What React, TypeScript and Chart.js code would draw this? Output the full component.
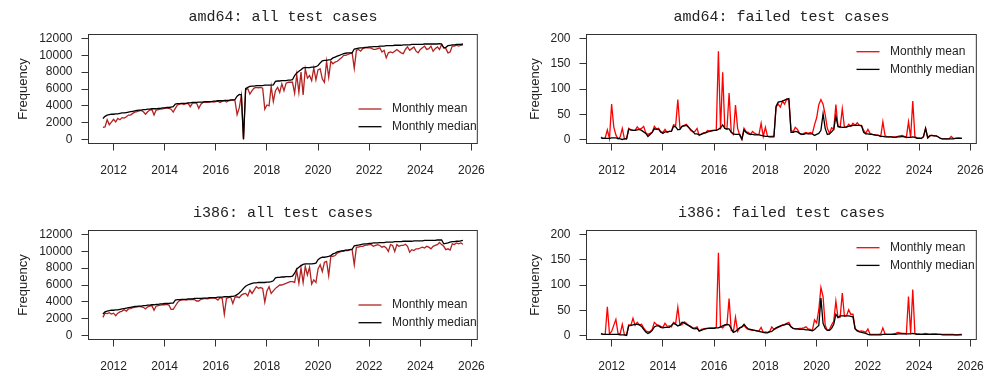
import React, { useEffect, useRef } from "react";
import { Chart, registerables } from "chart.js";

Chart.register(...registerables);

// Monthly series: first point August 2011, last point September 2025
const START_YEAR = 2011;
const START_MONTH = 8;

const YEAR_TICKS = [2012, 2014, 2016, 2018, 2020, 2022, 2024, 2026];
const ALL_TICKS = [0, 2000, 4000, 6000, 8000, 10000, 12000];
const FAILED_TICKS = [0, 50, 100, 150, 200];
const SERIES_LABELS = ["Monthly mean", "Monthly median"];

// amd64: all test cases
const amd64AllMean = [
  1450, 1500, 2350, 1750, 2050,
  2400, 2100, 2500, 2350, 2600, 2550, 2700, 2900, 2900, 3100, 3250, 3300,
  3400, 3450, 3300, 3000, 3300, 3500, 3550, 2900, 3500, 3550, 3600, 3650,
  3700, 3750, 3700, 3600, 3250, 3700, 4100, 4200, 4250, 4150, 4250, 4300,
  3900, 4300, 4350, 4300, 3700, 4200, 4400, 4450, 4400, 4450, 4500, 4450,
  4500, 4550, 4400, 4550, 4600, 4450, 4600, 4650, 4700, 4600, 2950, 3750,
  5200, 50, 5900, 6050, 5400, 5800, 6100, 6200, 6150, 6200, 6100, 3600,
  4100, 4000, 6300, 4500, 5800, 6200, 5600, 6600, 5800, 6700, 6800, 6800,
  6800, 5500, 7700, 5600, 8000, 5300, 8400, 7300, 7600, 7000, 8500, 7100,
  8300, 8400, 7200, 6800, 9300, 7400, 9300, 9000, 9200, 9300, 9500, 9700,
  10000, 10000, 10100, 10200, 10300, 8450, 10600, 10700, 10500, 10800, 10900, 10900,
  10900, 10850, 10700, 10700, 10800, 10900, 10400, 10600, 9700, 10300, 10400, 10300,
  10500, 10700, 10500, 10300, 10200, 10700, 11000, 10600, 10800, 11000, 10500, 10300,
  10700, 10900, 11100, 10700, 10800, 11100, 10500, 10800, 11000, 10700, 11300, 10900,
  10800, 10300, 10400, 11100, 11100, 11200, 11100, 11200, 11250,
];
const amd64AllMedian = [
  2500, 2750, 2900, 2950, 3000,
  3000, 3050, 3050, 3100, 3150, 3150, 3200, 3250, 3300, 3350, 3400, 3450,
  3500, 3500, 3550, 3550, 3600, 3600, 3650, 3650, 3650, 3700, 3700, 3750,
  3750, 3800, 3800, 3850, 3900, 4200, 4250, 4250, 4300, 4300, 4300, 4350,
  4350, 4400, 4400, 4400, 4450, 4450, 4450, 4500, 4500, 4500, 4500, 4550,
  4550, 4600, 4600, 4600, 4650, 4650, 4650, 4700, 4700, 4750, 5150, 5350,
  5300, 0, 6050, 6200, 6300, 6350, 6350, 6400, 6400, 6400, 6400, 6450,
  6450, 6450, 6450, 6500, 6900, 6950, 6950, 7000, 7000, 7000, 7050, 7050,
  7100, 7600, 7900, 8100, 8300, 8500, 8550, 8550, 8550, 8600, 8600, 8650,
  8800, 9100, 9350, 9400, 9400, 9450, 9500, 9700, 9800, 9900, 10000, 10100,
  10200, 10250, 10300, 10300, 10300, 10750, 10800, 10850, 10900, 10900, 10950, 10950,
  11000, 11000, 11050, 11050, 11050, 11100, 11100, 11100, 11150, 11150, 11150, 11150,
  11200, 11200, 11200, 11200, 11250, 11250, 11250, 11250, 11300, 11300, 11300, 11300,
  11300, 11300, 11350, 11350, 11350, 11350, 11350, 11350, 11350, 11400, 11350, 10900,
  10950, 11150, 11200, 11250, 11250, 11300, 11300, 11300, 11350,
];

// amd64: failed test cases
const amd64FailedMean = [
  5, 2, 3, 19, 2,
  70, 25, 9, 1, 5, 22, 1, 1, 22, 19, 18, 18,
  25, 20, 22, 26, 13, 10, 12, 14, 26, 21, 22, 15,
  14, 20, 14, 16, 16, 29, 28, 79, 22, 26, 28, 30,
  25, 18, 15, 16, 22, 8, 11, 13, 14, 18, 17, 18,
  18, 18, 175, 20, 133, 22, 20, 92, 15, 10, 68, 22,
  8, 1, 22, 15, 14, 10, 16, 12, 10, 10, 32, 6,
  24, 6, 6, 6, 7, 64, 70, 64, 76, 70, 80, 78,
  18, 15, 24, 20, 12, 10, 12, 14, 12, 14, 12, 29,
  43, 69, 79, 70, 49, 22, 12, 23, 20, 69, 25, 24,
  61, 24, 24, 30, 26, 32, 28, 33, 28, 28, 18, 12,
  20, 12, 10, 9, 9, 8, 6, 35, 8, 5, 5, 5,
  5, 5, 6, 7, 8, 6, 4, 35, 4, 76, 6, 3,
  3, 2, 6, 22, 4, 8, 8, 7, 7, 5, 2, 1,
  1, 1, 1, 6, 2, 2, 3, 3, 2,
];
const amd64FailedMedian = [
  3, 2, 2, 2, 2,
  3, 3, 3, 2, 1, 0, 1, 1, 20, 19, 18, 18,
  19, 20, 18, 15, 12, 6, 10, 14, 21, 20, 20, 15,
  12, 15, 15, 16, 16, 26, 25, 19, 20, 26, 27, 28,
  24, 20, 16, 11, 11, 9, 10, 12, 13, 15, 16, 17,
  18, 18, 20, 23, 29, 22, 21, 21, 14, 11, 10, 10,
  10, 0, 19, 14, 11, 10, 10, 9, 9, 9, 8, 7,
  6, 6, 5, 5, 5, 66, 74, 75, 76, 78, 80, 81,
  14, 14, 16, 15, 12, 10, 10, 12, 11, 11, 11, 8,
  10, 12, 18, 51, 22, 10, 11, 15, 20, 46, 26, 25,
  24, 24, 25, 26, 27, 28, 28, 28, 28, 27, 14, 11,
  11, 10, 10, 9, 8, 8, 6, 6, 5, 5, 5, 5,
  4, 4, 5, 5, 6, 5, 4, 4, 4, 5, 4, 2,
  2, 2, 5, 22, 3, 7, 8, 7, 7, 5, 2, 1,
  1, 1, 1, 1, 1, 2, 2, 2, 2,
];

// i386: all test cases
const i386AllMean = [
  2150, 2650, 2600, 2700, 2550,
  2650, 2350, 2650, 2800, 2900, 3050, 2900, 3150, 3200, 3300, 3350, 3400,
  3450, 3400, 3350, 3150, 3400, 3500, 3550, 3000, 3500, 3550, 3600, 3650,
  3650, 3700, 3600, 3100, 3100, 3500, 3900, 4150, 4200, 4250, 4200, 4250,
  4250, 4300, 4250, 4100, 4100, 4300, 4350, 4400, 4350, 4400, 4450, 4450,
  4400, 4200, 4500, 4400, 2500, 4400, 4500, 4550, 3800, 4550, 4600, 4500,
  4800, 4950, 5000, 4700, 5400, 5000, 5400, 5800, 5600, 5700, 5600, 3950,
  5300, 5800, 5000, 5300, 5600, 5800, 6000, 6000, 6100, 6200, 6300, 6400,
  6400, 6300, 7700, 6200, 8000, 6300, 8200, 7200, 8100, 6100, 6600, 6300,
  7900, 8400, 7600, 8700, 8800, 7100, 9400, 9400, 9500, 9800, 9900, 10000,
  10000, 10100, 10100, 10200, 10200, 8400, 10500, 10500, 10600, 10600, 10700, 10750,
  10800, 10800, 10600, 10700, 10800, 10700, 10500, 10600, 10400, 10000, 10800, 10700,
  10000, 10800, 10600, 10700, 10700, 10850, 10600, 9900, 10200, 10100, 10300, 10300,
  10400, 10500, 10400, 10600, 10500, 10300, 10600, 10700, 10800, 11050, 10800, 10600,
  10200, 10300, 10150, 10900, 10800, 11000, 10900, 11000, 10850,
];
const i386AllMedian = [
  2550, 2800, 2900, 2950, 3000,
  3000, 3050, 3050, 3100, 3150, 3200, 3250, 3300, 3350, 3400, 3450, 3450,
  3500, 3500, 3550, 3550, 3600, 3600, 3650, 3650, 3700, 3700, 3750, 3750,
  3800, 3800, 3800, 3850, 3850, 4200, 4250, 4250, 4300, 4300, 4300, 4350,
  4350, 4350, 4400, 4400, 4400, 4400, 4450, 4450, 4450, 4500, 4500, 4500,
  4500, 4550, 4550, 4550, 4600, 4600, 4600, 4650, 4650, 4700, 4850, 5050,
  5300, 5600, 5850, 6000, 6100, 6200, 6250, 6250, 6300, 6300, 6300, 6300,
  6350, 6350, 6400, 6500, 6850, 6900, 6900, 6950, 6950, 7000, 7000, 7000,
  7050, 7400, 7900, 8100, 8300, 8450, 8500, 8500, 8500, 8500, 8550, 8600,
  9000, 9200, 9300, 9300, 9350, 9400, 9500, 9700, 9800, 9950, 10000, 10050,
  10100, 10150, 10150, 10200, 10250, 10650, 10700, 10750, 10800, 10850, 10900, 10900,
  10950, 10950, 11000, 11000, 11000, 11050, 11050, 11050, 11100, 11100, 11100, 11100,
  11150, 11150, 11150, 11150, 11200, 11200, 11200, 11200, 11200, 11250, 11250, 11250,
  11250, 11250, 11300, 11300, 11300, 11300, 11300, 11300, 11350, 11350, 11350, 10900,
  10950, 11000, 11100, 11150, 11150, 11200, 11200, 11250, 11300,
];

// i386: failed test cases
const i386FailedMean = [
  4, 2, 2, 57, 3,
  8, 20, 32, 4, 3, 22, 1, 1, 21, 20, 34, 20,
  26, 21, 22, 15, 9, 7, 8, 12, 26, 22, 20, 18,
  16, 24, 18, 19, 17, 26, 24, 56, 20, 22, 27, 24,
  20, 18, 15, 15, 17, 9, 12, 13, 14, 14, 15, 15,
  15, 16, 164, 17, 15, 20, 21, 73, 10, 7, 36, 8,
  15, 17, 20, 15, 12, 11, 10, 10, 9, 9, 16, 6,
  7, 6, 8, 17, 12, 14, 16, 18, 21, 22, 24, 26,
  17, 14, 13, 13, 14, 14, 15, 17, 13, 12, 10, 31,
  25, 51, 95, 77, 20, 10, 12, 21, 28, 68, 35, 36,
  84, 38, 39, 51, 42, 42, 14, 10, 8, 9, 8, 6,
  13, 2, 2, 2, 2, 2, 3, 15, 3, 2, 2, 2,
  3, 4, 6, 5, 4, 4, 3, 77, 4, 91, 4, 3,
  3, 2, 3, 4, 3, 2, 3, 3, 3, 2, 2, 2,
  2, 2, 2, 2, 2, 1, 1, 2, 2,
];
const i386FailedMedian = [
  3, 2, 2, 2, 2,
  2, 2, 2, 2, 1, 1, 1, 0, 19, 20, 21, 22,
  22, 21, 18, 12, 7, 4, 6, 10, 17, 19, 19, 16,
  15, 16, 16, 16, 20, 24, 22, 19, 21, 26, 25, 22,
  20, 17, 14, 13, 14, 9, 10, 12, 13, 14, 14, 14,
  14, 15, 15, 17, 19, 21, 22, 21, 14, 6, 8, 12,
  15, 17, 22, 17, 13, 12, 11, 10, 9, 8, 7, 6,
  5, 5, 7, 8, 12, 15, 17, 19, 20, 21, 23, 22,
  17, 14, 13, 13, 12, 12, 12, 11, 11, 10, 9, 12,
  16, 20, 74, 24, 14, 10, 10, 14, 22, 42, 36, 39,
  39, 39, 39, 39, 38, 37, 13, 9, 7, 6, 5, 4,
  2, 1, 1, 1, 1, 1, 1, 2, 2, 2, 2, 2,
  2, 2, 3, 3, 3, 3, 3, 3, 3, 4, 3, 2,
  2, 2, 2, 2, 2, 2, 2, 2, 2, 2, 2, 1,
  1, 1, 1, 1, 1, 1, 1, 1, 1,
];

const monthPoints = (values: number[]) =>
  values.map((v, i) => ({ x: START_YEAR + (START_MONTH - 1 + i) / 12, y: v }));

const SANS = '"Liberation Sans", Arial, Helvetica, sans-serif';
const MONO = '"Liberation Mono", "DejaVu Sans Mono", monospace';

const decorPlugin = {
  id: "panelDecor",
  afterDraw(chart: any, _args: any, opts: any) {
    const { ctx, chartArea: a } = chart;
    ctx.save();
    ctx.strokeStyle = "#333";
    ctx.lineWidth = 1;
    ctx.strokeRect(a.left, a.top, a.right - a.left, a.bottom - a.top);

    ctx.fillStyle = "#222";
    ctx.font = `15px ${MONO}`;
    ctx.textAlign = "center";
    ctx.textBaseline = "middle";
    ctx.fillText(opts.title, (a.left + a.right) / 2, opts.titleY);

    ctx.font = `12px ${SANS}`;
    ctx.textAlign = "left";
    const items = [chart.data.datasets[0], chart.data.datasets[1]];
    items.forEach((ds: any, k: number) => {
      const y = opts.legendY + k * opts.legendGap;
      ctx.strokeStyle = ds.borderColor;
      ctx.lineWidth = 1.3;
      ctx.beginPath();
      ctx.moveTo(opts.legendX, y);
      ctx.lineTo(opts.legendX + opts.legendLine, y);
      ctx.stroke();
      ctx.fillStyle = "#222";
      ctx.fillText(ds.label, opts.legendX + opts.legendLine + opts.legendTextGap, y);
    });
    ctx.restore();
  },
};

type PanelProps = {
  title: string;
  mean: number[];
  median: number[];
  meanColor: string;
  yMin: number;
  yMax: number;
  yTicks: number[];
  legendY: number;
  yTitlePad: number;
  left: number;
  top: number;
  width: number;
};

function Panel(p: PanelProps) {
  const ref = useRef<HTMLCanvasElement | null>(null);
  useEffect(() => {
    if (!ref.current) return;
    const chart = new Chart(ref.current, {
      type: "line",
      data: {
        datasets: [
          {
            label: SERIES_LABELS[0],
            data: monthPoints(p.mean),
            borderColor: p.meanColor,
            borderWidth: 1.3,
            pointRadius: 0,
            tension: 0,
            order: 1,
          },
          {
            label: SERIES_LABELS[1],
            data: monthPoints(p.median),
            borderColor: "#000000",
            borderWidth: 1.3,
            pointRadius: 0,
            tension: 0,
            order: 0,
          },
        ],
      },
      options: {
        animation: false,
        responsive: false,
        devicePixelRatio: 1,
        parsing: true,
        layout: { padding: { top: 34.5, right: p.width - 483.5 - (p.width - 498), bottom: 0, left: 0 } },
        plugins: {
          legend: { display: false },
          tooltip: { enabled: false },
          title: { display: false },
          panelDecor: {
            title: p.title,
            titleY: 17,
            legendX: 358.5,
            legendLine: 23,
            legendTextGap: 10.5,
            legendY: p.legendY,
            legendGap: 17.7,
          },
        } as any,
        scales: {
          x: {
            type: "linear",
            min: 2011.02,
            max: 2026.23,
            afterBuildTicks: (s: any) => {
              s.ticks = YEAR_TICKS.map((v) => ({ value: v }));
            },
            afterFit: (s: any) => {
              s.height = 52.5;
            },
            grid: { drawOnChartArea: false, drawTicks: true, tickLength: 7, color: "#333" },
            border: { display: false },
            ticks: {
              autoSkip: false,
              maxRotation: 0,
              padding: 13,
              color: "#222",
              font: { family: SANS, size: 12 },
              callback: (v: any) => String(v),
            },
          },
          y: {
            type: "linear",
            min: p.yMin,
            max: p.yMax,
            afterBuildTicks: (s: any) => {
              s.ticks = p.yTicks.map((v) => ({ value: v }));
            },
            afterFit: (s: any) => {
              s.width = 88.5;
            },
            grid: { drawOnChartArea: false, drawTicks: true, tickLength: 7, color: "#333" },
            border: { display: false },
            ticks: {
              autoSkip: false,
              padding: 9,
              color: "#222",
              font: { family: SANS, size: 12 },
              callback: (v: any) => String(v),
            },
            title: {
              display: true,
              text: "Frequency",
              color: "#222",
              font: { family: SANS, size: 13 },
              padding: { top: p.yTitlePad, bottom: 0 },
            },
          },
        },
      },
      plugins: [decorPlugin as any],
    });
    return () => chart.destroy();
  }, []);
  return (
    <div style={{ position: "absolute", left: p.left, top: p.top, width: p.width, height: 196 }}>
      <canvas ref={ref} width={p.width} height={196} style={{ display: "block" }} />
    </div>
  );
}

export default function App() {
  return (
    <div style={{ position: "absolute", left: 0, top: 0, width: 997, height: 392, background: "#ffffff", overflow: "hidden" }}>
      <Panel title="amd64: all test cases" mean={amd64AllMean} median={amd64AllMedian} meanColor="#B22222"
        yMin={-480} yMax={12480} yTicks={ALL_TICKS} legendY={109} yTitlePad={15.5} left={0} top={0} width={498} />
      <Panel title="amd64: failed test cases" mean={amd64FailedMean} median={amd64FailedMedian} meanColor="#FF0000"
        yMin={-8} yMax={208} yTicks={FAILED_TICKS} legendY={51.7} yTitlePad={30} left={498} top={0} width={499} />
      <Panel title="i386: all test cases" mean={i386AllMean} median={i386AllMedian} meanColor="#B22222"
        yMin={-480} yMax={12480} yTicks={ALL_TICKS} legendY={109} yTitlePad={15.5} left={0} top={196} width={498} />
      <Panel title="i386: failed test cases" mean={i386FailedMean} median={i386FailedMedian} meanColor="#FF0000"
        yMin={-8} yMax={208} yTicks={FAILED_TICKS} legendY={51.7} yTitlePad={30} left={498} top={196} width={499} />
    </div>
  );
}
